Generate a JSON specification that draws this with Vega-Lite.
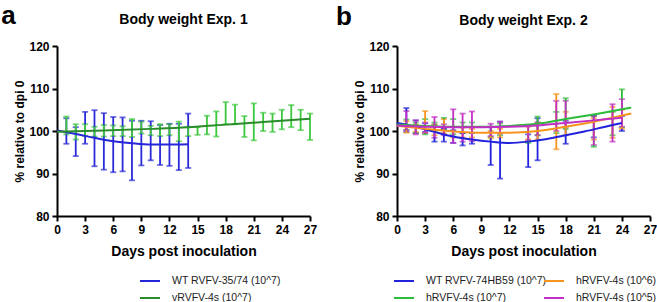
{
  "$schema": "https://vega.github.io/schema/vega-lite/v6.json",
  "padding": {"left": 1, "top": 2, "right": 0, "bottom": 0},
  "spacing": 19,
  "datasets": {
    "a_bars": [
      {"group": "WT RVFV-35/74 (10^7)", "day": 1, "lo": 97.0, "hi": 103.0},
      {"group": "WT RVFV-35/74 (10^7)", "day": 2, "lo": 94.1, "hi": 100.9},
      {"group": "WT RVFV-35/74 (10^7)", "day": 3, "lo": 97.0, "hi": 104.5},
      {"group": "WT RVFV-35/74 (10^7)", "day": 4, "lo": 91.7, "hi": 104.9},
      {"group": "WT RVFV-35/74 (10^7)", "day": 5, "lo": 90.9, "hi": 104.2},
      {"group": "WT RVFV-35/74 (10^7)", "day": 6, "lo": 90.3, "hi": 103.3},
      {"group": "WT RVFV-35/74 (10^7)", "day": 7, "lo": 90.5, "hi": 103.2},
      {"group": "WT RVFV-35/74 (10^7)", "day": 8, "lo": 88.4, "hi": 102.4},
      {"group": "WT RVFV-35/74 (10^7)", "day": 9, "lo": 91.9, "hi": 102.4},
      {"group": "WT RVFV-35/74 (10^7)", "day": 10, "lo": 93.1, "hi": 102.3},
      {"group": "WT RVFV-35/74 (10^7)", "day": 11, "lo": 92.0, "hi": 101.4},
      {"group": "WT RVFV-35/74 (10^7)", "day": 12, "lo": 91.8, "hi": 101.7},
      {"group": "WT RVFV-35/74 (10^7)", "day": 13, "lo": 90.8, "hi": 101.7},
      {"group": "WT RVFV-35/74 (10^7)", "day": 14, "lo": 91.3, "hi": 104.1},
      {"group": "vRVFV-4s (10^7)", "day": 1, "lo": 99.2, "hi": 103.4},
      {"group": "vRVFV-4s (10^7)", "day": 2, "lo": 98.0, "hi": 101.6},
      {"group": "vRVFV-4s (10^7)", "day": 3, "lo": 98.8, "hi": 101.6},
      {"group": "vRVFV-4s (10^7)", "day": 4, "lo": 98.7, "hi": 101.0},
      {"group": "vRVFV-4s (10^7)", "day": 5, "lo": 98.7, "hi": 101.4},
      {"group": "vRVFV-4s (10^7)", "day": 6, "lo": 98.8, "hi": 101.3},
      {"group": "vRVFV-4s (10^7)", "day": 7, "lo": 98.8, "hi": 101.1},
      {"group": "vRVFV-4s (10^7)", "day": 8, "lo": 98.6, "hi": 102.8},
      {"group": "vRVFV-4s (10^7)", "day": 9, "lo": 99.4, "hi": 102.2},
      {"group": "vRVFV-4s (10^7)", "day": 10, "lo": 99.0, "hi": 101.2},
      {"group": "vRVFV-4s (10^7)", "day": 11, "lo": 98.8, "hi": 101.6},
      {"group": "vRVFV-4s (10^7)", "day": 12, "lo": 99.0, "hi": 101.6},
      {"group": "vRVFV-4s (10^7)", "day": 13, "lo": 97.6, "hi": 102.2},
      {"group": "vRVFV-4s (10^7)", "day": 14, "lo": 98.8, "hi": 101.0},
      {"group": "vRVFV-4s (10^7)", "day": 15, "lo": 99.1, "hi": 100.9},
      {"group": "vRVFV-4s (10^7)", "day": 16, "lo": 99.2, "hi": 103.6},
      {"group": "vRVFV-4s (10^7)", "day": 17, "lo": 98.7, "hi": 104.6},
      {"group": "vRVFV-4s (10^7)", "day": 18, "lo": 101.6, "hi": 106.8},
      {"group": "vRVFV-4s (10^7)", "day": 19, "lo": 101.6, "hi": 106.2},
      {"group": "vRVFV-4s (10^7)", "day": 20, "lo": 98.6, "hi": 103.5},
      {"group": "vRVFV-4s (10^7)", "day": 21, "lo": 97.8, "hi": 106.5},
      {"group": "vRVFV-4s (10^7)", "day": 22, "lo": 100.0, "hi": 104.3},
      {"group": "vRVFV-4s (10^7)", "day": 23, "lo": 99.8, "hi": 104.1},
      {"group": "vRVFV-4s (10^7)", "day": 24, "lo": 100.4, "hi": 105.0},
      {"group": "vRVFV-4s (10^7)", "day": 25, "lo": 100.9, "hi": 106.1},
      {"group": "vRVFV-4s (10^7)", "day": 26, "lo": 100.2, "hi": 105.0},
      {"group": "vRVFV-4s (10^7)", "day": 27, "lo": 97.9, "hi": 104.1}
    ],
    "a_fit": [
      {"group": "WT RVFV-35/74 (10^7)", "day": 0, "pct": 100.1},
      {"group": "WT RVFV-35/74 (10^7)", "day": 2, "pct": 99.3},
      {"group": "WT RVFV-35/74 (10^7)", "day": 4, "pct": 98.4},
      {"group": "WT RVFV-35/74 (10^7)", "day": 6, "pct": 97.6},
      {"group": "WT RVFV-35/74 (10^7)", "day": 8, "pct": 97.1},
      {"group": "WT RVFV-35/74 (10^7)", "day": 10, "pct": 96.8},
      {"group": "WT RVFV-35/74 (10^7)", "day": 12, "pct": 96.8},
      {"group": "WT RVFV-35/74 (10^7)", "day": 14, "pct": 96.9},
      {"group": "vRVFV-4s (10^7)", "day": 0, "pct": 99.8},
      {"group": "vRVFV-4s (10^7)", "day": 5, "pct": 100.1},
      {"group": "vRVFV-4s (10^7)", "day": 10, "pct": 100.5},
      {"group": "vRVFV-4s (10^7)", "day": 14, "pct": 100.9},
      {"group": "vRVFV-4s (10^7)", "day": 18, "pct": 101.5},
      {"group": "vRVFV-4s (10^7)", "day": 22, "pct": 102.1},
      {"group": "vRVFV-4s (10^7)", "day": 27, "pct": 102.9}
    ],
    "b_bars": [
      {"group": "WT RVFV-74HB59 (10^7)", "day": 1, "lo": 99.8, "hi": 105.4},
      {"group": "WT RVFV-74HB59 (10^7)", "day": 2, "lo": 99.5, "hi": 102.5},
      {"group": "WT RVFV-74HB59 (10^7)", "day": 3, "lo": 99.8, "hi": 101.8},
      {"group": "WT RVFV-74HB59 (10^7)", "day": 4, "lo": 97.5, "hi": 101.5},
      {"group": "WT RVFV-74HB59 (10^7)", "day": 5, "lo": 97.5, "hi": 100.5},
      {"group": "WT RVFV-74HB59 (10^7)", "day": 6, "lo": 97.2, "hi": 100.2},
      {"group": "WT RVFV-74HB59 (10^7)", "day": 7, "lo": 96.6, "hi": 99.5},
      {"group": "WT RVFV-74HB59 (10^7)", "day": 8, "lo": 97.0, "hi": 99.6},
      {"group": "WT RVFV-74HB59 (10^7)", "day": 10, "lo": 92.0, "hi": 100.9},
      {"group": "WT RVFV-74HB59 (10^7)", "day": 11, "lo": 88.8, "hi": 102.2},
      {"group": "WT RVFV-74HB59 (10^7)", "day": 14, "lo": 91.5, "hi": 99.2},
      {"group": "WT RVFV-74HB59 (10^7)", "day": 15, "lo": 93.1, "hi": 103.0},
      {"group": "WT RVFV-74HB59 (10^7)", "day": 18, "lo": 97.0, "hi": 102.4},
      {"group": "WT RVFV-74HB59 (10^7)", "day": 21, "lo": 98.5, "hi": 103.8},
      {"group": "WT RVFV-74HB59 (10^7)", "day": 24, "lo": 100.0, "hi": 103.5},
      {"group": "hRVFV-4s (10^7)", "day": 1, "lo": 100.3, "hi": 102.7},
      {"group": "hRVFV-4s (10^7)", "day": 2, "lo": 99.5, "hi": 102.0},
      {"group": "hRVFV-4s (10^7)", "day": 3, "lo": 99.2, "hi": 102.8},
      {"group": "hRVFV-4s (10^7)", "day": 4, "lo": 100.0, "hi": 102.0},
      {"group": "hRVFV-4s (10^7)", "day": 5, "lo": 100.5, "hi": 103.1},
      {"group": "hRVFV-4s (10^7)", "day": 6, "lo": 99.2, "hi": 102.8},
      {"group": "hRVFV-4s (10^7)", "day": 7, "lo": 99.5, "hi": 102.0},
      {"group": "hRVFV-4s (10^7)", "day": 8, "lo": 99.5, "hi": 102.0},
      {"group": "hRVFV-4s (10^7)", "day": 10, "lo": 98.6, "hi": 101.0},
      {"group": "hRVFV-4s (10^7)", "day": 11, "lo": 99.0, "hi": 101.8},
      {"group": "hRVFV-4s (10^7)", "day": 14, "lo": 97.2, "hi": 101.4},
      {"group": "hRVFV-4s (10^7)", "day": 15, "lo": 99.0, "hi": 103.4},
      {"group": "hRVFV-4s (10^7)", "day": 17, "lo": 99.5, "hi": 104.5},
      {"group": "hRVFV-4s (10^7)", "day": 18, "lo": 100.5, "hi": 107.7},
      {"group": "hRVFV-4s (10^7)", "day": 21, "lo": 96.3, "hi": 103.5},
      {"group": "hRVFV-4s (10^7)", "day": 23, "lo": 99.0, "hi": 104.5},
      {"group": "hRVFV-4s (10^7)", "day": 24, "lo": 100.9, "hi": 109.8},
      {"group": "hRVFV-4s (10^6)", "day": 1, "lo": 99.6, "hi": 102.3},
      {"group": "hRVFV-4s (10^6)", "day": 2, "lo": 99.8, "hi": 101.5},
      {"group": "hRVFV-4s (10^6)", "day": 3, "lo": 99.6, "hi": 104.7},
      {"group": "hRVFV-4s (10^6)", "day": 4, "lo": 99.0, "hi": 101.5},
      {"group": "hRVFV-4s (10^6)", "day": 5, "lo": 99.5, "hi": 102.8},
      {"group": "hRVFV-4s (10^6)", "day": 6, "lo": 98.5, "hi": 101.0},
      {"group": "hRVFV-4s (10^6)", "day": 7, "lo": 98.5, "hi": 100.8},
      {"group": "hRVFV-4s (10^6)", "day": 8, "lo": 98.5, "hi": 100.5},
      {"group": "hRVFV-4s (10^6)", "day": 10, "lo": 98.3, "hi": 100.0},
      {"group": "hRVFV-4s (10^6)", "day": 11, "lo": 98.5, "hi": 100.5},
      {"group": "hRVFV-4s (10^6)", "day": 14, "lo": 98.0, "hi": 101.0},
      {"group": "hRVFV-4s (10^6)", "day": 15, "lo": 98.0, "hi": 102.0},
      {"group": "hRVFV-4s (10^6)", "day": 17, "lo": 95.7, "hi": 108.7},
      {"group": "hRVFV-4s (10^6)", "day": 18, "lo": 99.0, "hi": 104.5},
      {"group": "hRVFV-4s (10^6)", "day": 21, "lo": 98.0, "hi": 103.0},
      {"group": "hRVFV-4s (10^6)", "day": 23, "lo": 98.4, "hi": 105.7},
      {"group": "hRVFV-4s (10^6)", "day": 24, "lo": 100.5, "hi": 105.0},
      {"group": "hRVFV-4s (10^5)", "day": 1, "lo": 100.2, "hi": 104.7},
      {"group": "hRVFV-4s (10^5)", "day": 2, "lo": 99.2, "hi": 102.5},
      {"group": "hRVFV-4s (10^5)", "day": 3, "lo": 99.5, "hi": 102.0},
      {"group": "hRVFV-4s (10^5)", "day": 4, "lo": 98.4, "hi": 103.3},
      {"group": "hRVFV-4s (10^5)", "day": 5, "lo": 99.0, "hi": 101.6},
      {"group": "hRVFV-4s (10^5)", "day": 6, "lo": 97.2, "hi": 105.1},
      {"group": "hRVFV-4s (10^5)", "day": 7, "lo": 97.5, "hi": 104.1},
      {"group": "hRVFV-4s (10^5)", "day": 8, "lo": 97.6, "hi": 104.6},
      {"group": "hRVFV-4s (10^5)", "day": 10, "lo": 98.8, "hi": 101.7},
      {"group": "hRVFV-4s (10^5)", "day": 11, "lo": 99.4, "hi": 102.2},
      {"group": "hRVFV-4s (10^5)", "day": 14, "lo": 97.8, "hi": 101.2},
      {"group": "hRVFV-4s (10^5)", "day": 15, "lo": 99.0, "hi": 102.0},
      {"group": "hRVFV-4s (10^5)", "day": 17, "lo": 100.0, "hi": 107.1},
      {"group": "hRVFV-4s (10^5)", "day": 18, "lo": 101.0, "hi": 107.1},
      {"group": "hRVFV-4s (10^5)", "day": 21, "lo": 96.7, "hi": 103.5},
      {"group": "hRVFV-4s (10^5)", "day": 23, "lo": 97.5, "hi": 106.3},
      {"group": "hRVFV-4s (10^5)", "day": 24, "lo": 101.0, "hi": 107.5}
    ],
    "b_fit": [
      {"group": "WT RVFV-74HB59 (10^7)", "day": 0, "pct": 101.9},
      {"group": "WT RVFV-74HB59 (10^7)", "day": 2, "pct": 101.0},
      {"group": "WT RVFV-74HB59 (10^7)", "day": 4, "pct": 99.8},
      {"group": "WT RVFV-74HB59 (10^7)", "day": 6, "pct": 98.7},
      {"group": "WT RVFV-74HB59 (10^7)", "day": 8, "pct": 98.0},
      {"group": "WT RVFV-74HB59 (10^7)", "day": 10, "pct": 97.5},
      {"group": "WT RVFV-74HB59 (10^7)", "day": 12, "pct": 97.2},
      {"group": "WT RVFV-74HB59 (10^7)", "day": 14, "pct": 97.5},
      {"group": "WT RVFV-74HB59 (10^7)", "day": 16, "pct": 98.1},
      {"group": "WT RVFV-74HB59 (10^7)", "day": 18, "pct": 99.0},
      {"group": "WT RVFV-74HB59 (10^7)", "day": 20, "pct": 99.9},
      {"group": "WT RVFV-74HB59 (10^7)", "day": 22, "pct": 100.9},
      {"group": "WT RVFV-74HB59 (10^7)", "day": 24, "pct": 101.9},
      {"group": "hRVFV-4s (10^7)", "day": 0, "pct": 101.5},
      {"group": "hRVFV-4s (10^7)", "day": 3, "pct": 101.2},
      {"group": "hRVFV-4s (10^7)", "day": 6, "pct": 101.0},
      {"group": "hRVFV-4s (10^7)", "day": 9, "pct": 101.0},
      {"group": "hRVFV-4s (10^7)", "day": 12, "pct": 101.2},
      {"group": "hRVFV-4s (10^7)", "day": 15, "pct": 101.7},
      {"group": "hRVFV-4s (10^7)", "day": 18, "pct": 102.8},
      {"group": "hRVFV-4s (10^7)", "day": 21, "pct": 103.9},
      {"group": "hRVFV-4s (10^7)", "day": 23, "pct": 104.7},
      {"group": "hRVFV-4s (10^7)", "day": 25, "pct": 105.5},
      {"group": "hRVFV-4s (10^6)", "day": 0, "pct": 101.2},
      {"group": "hRVFV-4s (10^6)", "day": 3, "pct": 100.5},
      {"group": "hRVFV-4s (10^6)", "day": 6, "pct": 99.9},
      {"group": "hRVFV-4s (10^6)", "day": 9, "pct": 99.6},
      {"group": "hRVFV-4s (10^6)", "day": 12, "pct": 99.6},
      {"group": "hRVFV-4s (10^6)", "day": 15, "pct": 100.0},
      {"group": "hRVFV-4s (10^6)", "day": 18, "pct": 101.0},
      {"group": "hRVFV-4s (10^6)", "day": 21, "pct": 102.2},
      {"group": "hRVFV-4s (10^6)", "day": 23, "pct": 103.1},
      {"group": "hRVFV-4s (10^6)", "day": 25, "pct": 104.1},
      {"group": "hRVFV-4s (10^5)", "day": 0, "pct": 101.3},
      {"group": "hRVFV-4s (10^5)", "day": 3, "pct": 101.0},
      {"group": "hRVFV-4s (10^5)", "day": 6, "pct": 100.9},
      {"group": "hRVFV-4s (10^5)", "day": 9, "pct": 100.9},
      {"group": "hRVFV-4s (10^5)", "day": 12, "pct": 101.0},
      {"group": "hRVFV-4s (10^5)", "day": 15, "pct": 101.3},
      {"group": "hRVFV-4s (10^5)", "day": 18, "pct": 101.9},
      {"group": "hRVFV-4s (10^5)", "day": 21, "pct": 102.5},
      {"group": "hRVFV-4s (10^5)", "day": 24, "pct": 103.1}
    ]
  },
  "hconcat": [
    {
      "width": 253,
      "height": 170,
      "title": {"text": "Body weight Exp. 1"},
      "encoding": {
        "x": {"type": "quantitative", "scale": {"domain": [0, 27], "nice": false},
              "axis": {"values": [0, 3, 6, 9, 12, 15, 18, 21, 24, 27], "title": "Days post inoculation"}}
      },
      "layer": [
        {
          "data": {"name": "a_bars"},
          "mark": {"type": "errorbar", "ticks": true, "size": 6, "thickness": 1.8},
          "encoding": {
            "x": {"field": "day", "type": "quantitative", "scale": {"domain": [0, 27], "nice": false},
                  "axis": {"values": [0, 3, 6, 9, 12, 15, 18, 21, 24, 27], "title": "Days post inoculation"}},
            "y": {"field": "lo", "type": "quantitative", "scale": {"domain": [80, 120], "nice": false},
                  "axis": {"values": [80, 90, 100, 110, 120], "title": "% relative to dpi 0"}},
            "y2": {"field": "hi"},
            "color": {"field": "group", "type": "nominal", "legend": null,
                      "scale": {"domain": ["WT RVFV-35/74 (10^7)", "vRVFV-4s (10^7)"], "range": ["#2a2ad8", "#3cc83c"]}}
          }
        },
        {
          "data": {"name": "a_fit"},
          "mark": {"type": "line", "interpolate": "monotone", "strokeWidth": 2},
          "encoding": {
            "x": {"field": "day", "type": "quantitative", "scale": {"domain": [0, 27], "nice": false},
                  "axis": {"values": [0, 3, 6, 9, 12, 15, 18, 21, 24, 27], "title": "Days post inoculation"}},
            "y": {"field": "pct", "type": "quantitative", "scale": {"domain": [80, 120], "nice": false},
                  "axis": {"values": [80, 90, 100, 110, 120], "title": "% relative to dpi 0"}},
            "color": {"field": "group", "type": "nominal",
                      "scale": {"domain": ["WT RVFV-35/74 (10^7)", "vRVFV-4s (10^7)"], "range": ["#2626d9", "#2a8c2a"]},
                      "legend": {"orient": "none", "legendX": 82, "legendY": 224, "columns": 1, "direction": "vertical"}}
          }
        },
        {
          "data": {"values": [{"t": "a"}]},
          "mark": {"type": "text", "fontSize": 26, "fontWeight": "bold", "align": "left", "baseline": "alphabetic", "color": "black"},
          "encoding": {"text": {"field": "t"}, "x": {"datum": -5.94}, "y": {"datum": 125.2}}
        }
      ],
      "resolve": {"scale": {"color": "independent"}}
    },
    {
      "width": 253,
      "height": 170,
      "title": {"text": "Body weight Exp. 2"},
      "encoding": {
        "x": {"type": "quantitative", "scale": {"domain": [0, 27], "nice": false},
              "axis": {"values": [0, 3, 6, 9, 12, 15, 18, 21, 24, 27], "title": "Days post inoculation"}}
      },
      "layer": [
        {
          "data": {"name": "b_bars"},
          "mark": {"type": "errorbar", "ticks": true, "size": 6, "thickness": 1.8},
          "encoding": {
            "x": {"field": "day", "type": "quantitative", "scale": {"domain": [0, 27], "nice": false},
                  "axis": {"values": [0, 3, 6, 9, 12, 15, 18, 21, 24, 27], "title": "Days post inoculation"}},
            "y": {"field": "lo", "type": "quantitative", "scale": {"domain": [80, 120], "nice": false},
                  "axis": {"values": [80, 90, 100, 110, 120], "title": "% relative to dpi 0"}},
            "y2": {"field": "hi"},
            "color": {"field": "group", "type": "nominal", "legend": null,
                      "scale": {"domain": ["WT RVFV-74HB59 (10^7)", "hRVFV-4s (10^7)", "hRVFV-4s (10^6)", "hRVFV-4s (10^5)"],
                                "range": ["#2222dd", "#2dbb3a", "#f7941d", "#c22fc4"]}}
          }
        },
        {
          "data": {"name": "b_fit"},
          "transform": [{"filter": {"field": "group", "oneOf": ["WT RVFV-74HB59 (10^7)", "hRVFV-4s (10^7)"]}}],
          "mark": {"type": "line", "interpolate": "monotone", "strokeWidth": 2},
          "encoding": {
            "x": {"field": "day", "type": "quantitative", "scale": {"domain": [0, 27], "nice": false},
                  "axis": {"values": [0, 3, 6, 9, 12, 15, 18, 21, 24, 27], "title": "Days post inoculation"}},
            "y": {"field": "pct", "type": "quantitative", "scale": {"domain": [80, 120], "nice": false},
                  "axis": {"values": [80, 90, 100, 110, 120], "title": "% relative to dpi 0"}},
            "color": {"field": "group", "type": "nominal",
                      "scale": {"domain": ["WT RVFV-74HB59 (10^7)", "hRVFV-4s (10^7)"], "range": ["#2222dd", "#2dbb3a"]},
                      "legend": {"orient": "none", "legendX": -4, "legendY": 224, "columns": 1, "direction": "vertical"}}
          }
        },
        {
          "data": {"name": "b_fit"},
          "transform": [{"filter": {"field": "group", "oneOf": ["hRVFV-4s (10^6)", "hRVFV-4s (10^5)"]}}],
          "mark": {"type": "line", "interpolate": "monotone", "strokeWidth": 2},
          "encoding": {
            "x": {"field": "day", "type": "quantitative", "scale": {"domain": [0, 27], "nice": false},
                  "axis": {"values": [0, 3, 6, 9, 12, 15, 18, 21, 24, 27], "title": "Days post inoculation"}},
            "y": {"field": "pct", "type": "quantitative", "scale": {"domain": [80, 120], "nice": false},
                  "axis": {"values": [80, 90, 100, 110, 120], "title": "% relative to dpi 0"}},
            "color": {"field": "group", "type": "nominal",
                      "scale": {"domain": ["hRVFV-4s (10^6)", "hRVFV-4s (10^5)"], "range": ["#f7941d", "#c22fc4"]},
                      "legend": {"orient": "none", "legendX": 146, "legendY": 224, "columns": 1, "direction": "vertical"}}
          }
        },
        {
          "data": {"values": [{"t": "b"}]},
          "mark": {"type": "text", "fontSize": 26, "fontWeight": "bold", "align": "left", "baseline": "alphabetic", "color": "black"},
          "encoding": {"text": {"field": "t"}, "x": {"datum": -6.5}, "y": {"datum": 125.0}}
        }
      ],
      "resolve": {"scale": {"color": "independent"}, "legend": {"color": "independent"}}
    }
  ],
  "resolve": {"scale": {"color": "independent"}, "legend": {"color": "independent"}},
  "config": {
    "font": "Liberation Sans",
    "view": {"stroke": null},
    "axis": {
      "grid": false, "domainColor": "black", "domainWidth": 2, "tickColor": "black", "tickWidth": 2, "tickSize": 5,
      "labelFont": "Liberation Sans", "labelFontWeight": "bold", "labelFontSize": 12, "labelColor": "black", "labelPadding": 3,
      "labelOverlap": false, "labelFlush": false,
      "titleFont": "Liberation Sans", "titleFontWeight": "bold", "titleColor": "black"
    },
    "axisX": {"titleFontSize": 14, "titlePadding": 9},
    "axisY": {"titleFontSize": 12, "titlePadding": 2},
    "title": {"font": "Liberation Sans", "fontSize": 14, "fontWeight": "bold", "color": "black", "offset": -24, "anchor": "middle", "frame": "group"},
    "legend": {
      "title": null, "labelFont": "Liberation Sans", "labelFontSize": 10.5, "labelColor": "#222222",
      "symbolType": "stroke", "symbolStrokeWidth": 2, "symbolSize": 400, "labelOffset": 11, "padding": 0, "rowPadding": -2
    }
  }
}
